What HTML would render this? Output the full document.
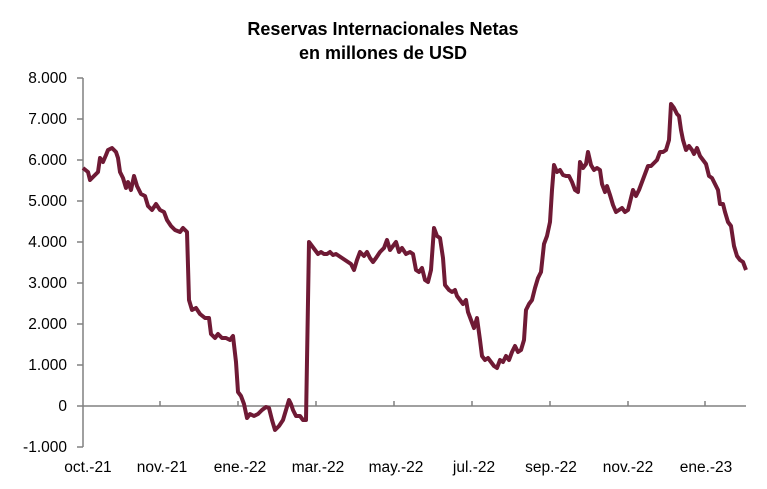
<!DOCTYPE html>
<html><head><meta charset="utf-8"><style>
body{margin:0;background:#fff;}
svg text{font-family:"Liberation Sans",sans-serif;fill:#000;}
</style></head><body>
<svg width="767" height="484" viewBox="0 0 767 484" xmlns="http://www.w3.org/2000/svg">
<text x="383" y="35" text-anchor="middle" font-size="18" font-weight="bold">Reservas Internacionales Netas</text>
<text x="383" y="59" text-anchor="middle" font-size="18" font-weight="bold">en millones de USD</text>
<g font-size="15.5" text-anchor="end">
<text x="67" y="83">8.000</text><text x="67" y="124">7.000</text><text x="67" y="165">6.000</text>
<text x="67" y="206">5.000</text><text x="67" y="247">4.000</text><text x="67" y="288">3.000</text>
<text x="67" y="329">2.000</text><text x="67" y="370">1.000</text><text x="67" y="411">0</text>
<text x="67" y="452">-1.000</text></g>
<g stroke="#808080" stroke-width="1.5" fill="none">
<line x1="83" y1="78" x2="83" y2="447"/>
<line x1="83" y1="406" x2="746" y2="406"/>
<path d="M77 78H83M77 119H83M77 160H83M77 201H83M77 242H83M77 283H83M77 324H83M77 365H83M77 406H83M77 447H83"/>
<path d="M160 406V401M238 406V401M316 406V401M394 406V401M472 406V401M550 406V401M628 406V401M705 406V401"/>
</g>
<g font-size="15.5" text-anchor="middle">
<text x="88" y="472">oct.-21</text><text x="162" y="472">nov.-21</text><text x="240" y="472">ene.-22</text>
<text x="318" y="472">mar.-22</text><text x="396" y="472">may.-22</text><text x="474" y="472">jul.-22</text>
<text x="551" y="472">sep.-22</text><text x="628" y="472">nov.-22</text><text x="706" y="472">ene.-23</text></g>
<polyline fill="none" stroke="#6f1a35" stroke-width="4" stroke-linejoin="round" points="83,168 88,172 90,180 94,176 98,172 100,158 103,162 106,155 108,150 112,148 116,152 118,158 120,172 123,178 126,188 128,182 131,190 134,176 137,186 141,194 145,196 148,206 152,210 156,204 160,210 164,212 167,220 171,226 175,230 180,232 183,228 187,232 189,300 192,310 196,308 200,314 205,318 209,318 211,334 215,338 218,334 222,338 226,338 230,340 233,336 236,362 238,392 241,396 244,404 247,418 250,414 254,416 258,414 262,410 266,407 269,408 272,420 275,430 279,426 283,420 286,410 289,400 291,404 293,410 296,416 300,416 303,420 306,420 309,242 312,246 315,250 318,254 321,252 324,254 327,254 330,252 333,255 336,254 339,256 342,258 345,260 348,262 351,264 354,270 357,260 360,252 364,256 367,252 370,258 373,262 376,258 380,252 384,248 387,240 390,250 393,246 396,242 399,252 402,248 406,254 410,252 413,254 416,270 419,272 422,268 425,280 428,282 431,270 434,228 437,236 440,238 443,258 445,285 449,290 452,292 455,290 457,296 460,300 463,304 466,300 468,312 471,320 474,328 477,318 480,340 482,356 485,360 488,358 491,362 494,366 497,368 500,360 503,362 506,356 509,360 512,352 515,346 518,352 521,350 524,340 526,310 529,304 532,300 535,288 538,278 541,272 544,244 547,236 550,222 552,190 554,165 557,172 560,170 563,175 566,176 569,176 572,182 575,190 578,192 580,162 583,168 586,164 588,152 591,165 594,170 597,168 600,170 602,184 605,192 607,186 610,195 613,205 616,212 619,210 622,208 625,212 628,210 630,202 633,190 636,196 639,190 642,182 645,174 648,166 651,166 654,163 657,160 660,152 663,152 666,150 669,140 671,104 674,108 677,114 679,116 681,130 683,140 686,150 689,146 692,150 694,154 697,148 700,156 703,160 706,164 709,176 712,178 715,184 718,190 720,204 723,204 725,212 728,222 731,226 734,246 737,256 740,260 743,262 746,270"/>
</svg>
</body></html>
